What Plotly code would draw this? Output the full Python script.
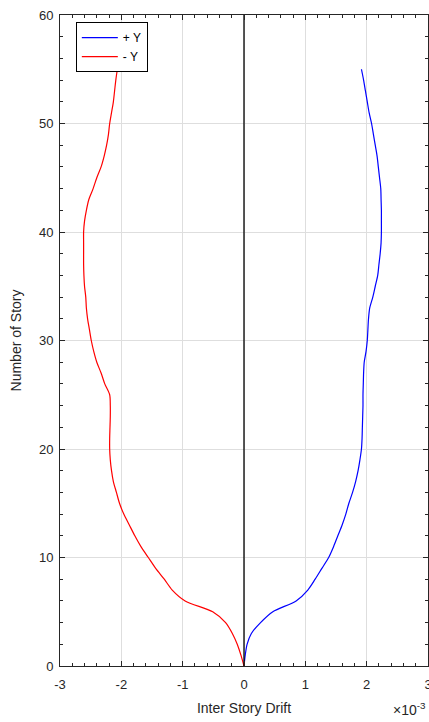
import plotly.graph_objects as go

# Data (Inter story drift in units of 1e-3)
stories = list(range(0, 56))
drift_pos_y = [0, 0.02, 0.05, 0.12, 0.27, 0.47, 0.85, 1.04, 1.16, 1.27,
               1.38, 1.46, 1.53, 1.60, 1.66, 1.71, 1.77, 1.82, 1.86, 1.89,
               1.915, 1.925, 1.93, 1.935, 1.94, 1.94, 1.945, 1.95, 1.96, 1.99,
               2.01, 2.02, 2.03, 2.05, 2.10, 2.14, 2.18, 2.20, 2.22, 2.235,
               2.24, 2.24, 2.24, 2.235, 2.23, 2.21, 2.19, 2.17, 2.14, 2.11,
               2.08, 2.04, 2.01, 1.98, 1.95, 1.915]
drift_neg_y = [0, -0.05, -0.11, -0.19, -0.30, -0.51, -0.96, -1.17, -1.30, -1.44,
               -1.56, -1.68, -1.78, -1.87, -1.96, -2.03, -2.08, -2.13, -2.16, -2.18,
               -2.19, -2.19, -2.185, -2.18, -2.18, -2.19, -2.27, -2.33, -2.40, -2.45,
               -2.49, -2.52, -2.55, -2.57, -2.58, -2.60, -2.61, -2.615, -2.615, -2.615,
               -2.615, -2.60, -2.57, -2.53, -2.46, -2.40, -2.33, -2.28, -2.24, -2.21,
               -2.19, -2.16, -2.13, -2.11, -2.09, -2.065]
zero_line_x = [0, 0]
zero_line_y = [0, 60]
x_ticks = [-3, -2, -1, 0, 1, 2, 3]
y_ticks = [0, 10, 20, 30, 40, 50, 60]

FONT = "Liberation Sans, Arial, sans-serif"
AXC = "#262626"

fig = go.Figure()
fig.add_trace(go.Scatter(x=drift_pos_y, y=stories, mode="lines", name="+ Y",
                         line=dict(color="#0000ff", width=1.2, shape="spline", smoothing=0.8)))
fig.add_trace(go.Scatter(x=drift_neg_y, y=stories, mode="lines", name="- Y",
                         line=dict(color="#ff0000", width=1.2, shape="spline", smoothing=0.8)))
fig.add_trace(go.Scatter(x=zero_line_x, y=zero_line_y, mode="lines", showlegend=False,
                         line=dict(color="#000000", width=1.3)))

axis_common = dict(
    showline=True, linecolor=AXC, linewidth=1, mirror="ticks",
    ticks="inside", ticklen=5, tickcolor=AXC, tickwidth=1,
    showgrid=True, gridcolor="#dedede", gridwidth=1,
    zeroline=False, automargin=False, ticklabeloverflow="allow",
    tickfont=dict(family=FONT, size=13, color=AXC),
)

fig.update_xaxes(range=[-3, 3], tickvals=x_ticks, ticktext=[str(v) for v in x_ticks],
                 ticklabelstandoff=6,
                 minor=dict(ticks="inside", dtick=0.2, ticklen=3, tickcolor=AXC, showgrid=False),
                 title=dict(text="Inter Story Drift", font=dict(family=FONT, size=14, color=AXC),
                            standoff=12),
                 **axis_common)
fig.update_yaxes(range=[0, 60], tickvals=y_ticks,
                 ticklabelstandoff=3,
                 minor=dict(ticks="inside", dtick=2, ticklen=3, tickcolor=AXC, showgrid=False),
                 title=dict(text="Number of Story", font=dict(family=FONT, size=14, color=AXC),
                            standoff=14),
                 **axis_common)

fig.add_annotation(text="×10<sup>-3</sup>", xref="paper", yref="paper",
                   x=1.0, y=-0.066, xanchor="right", yanchor="middle", showarrow=False,
                   font=dict(family=FONT, size=14, color=AXC))

fig.update_layout(
    width=429, height=722,
    margin=dict(l=60, r=1, t=15, b=56),
    paper_bgcolor="white", plot_bgcolor="white",
    showlegend=True,
    legend=dict(x=0.043, y=0.989, xanchor="left", yanchor="top",
                bordercolor="#000000", borderwidth=1, bgcolor="white",
                font=dict(family=FONT, size=12, color="#000000"),
                tracegroupgap=0, itemwidth=36),
)

fig.write_html("out.html", config={"displayModeBar": False},
               post_script="document.body.style.margin='0';document.body.style.overflow='hidden';")
